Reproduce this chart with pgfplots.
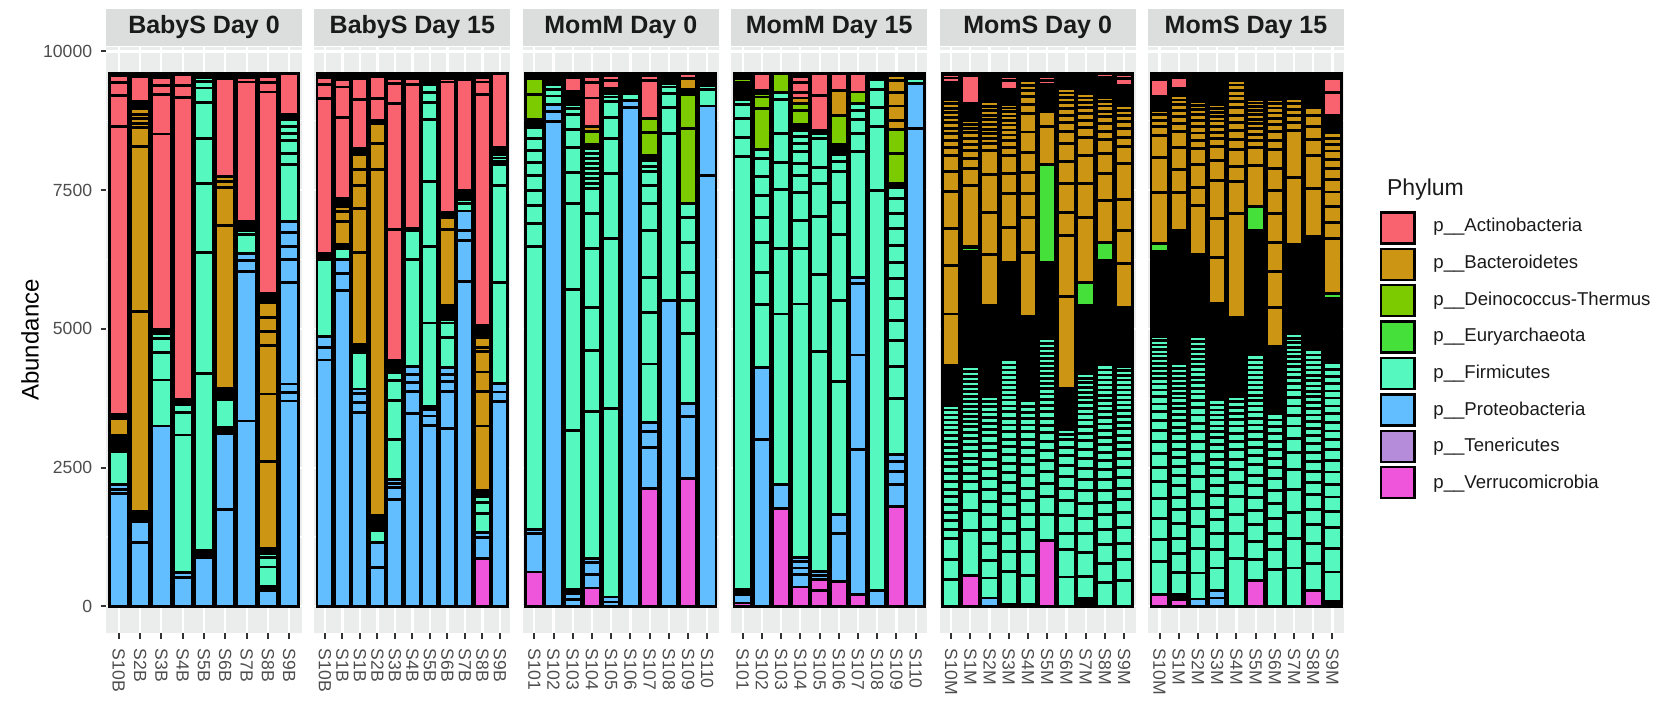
\documentclass[border=0pt]{standalone}
\usepackage{pgfplots}
\pgfplotsset{compat=1.18}
\usepackage{pgfplotstable}
\usepackage{fontspec}
\setmainfont{Liberation Sans}

\definecolor{cA}{HTML}{F8636F}
\definecolor{cB}{HTML}{CC9514}
\definecolor{cD}{HTML}{7CCB00}
\definecolor{cE}{HTML}{45E03A}
\definecolor{cF}{HTML}{55F8BE}
\definecolor{cP}{HTML}{62BEFF}
\definecolor{cT}{HTML}{B48CDA}
\definecolor{cV}{HTML}{EE55DA}
\definecolor{cK}{HTML}{000000}
\definecolor{panelgrey}{HTML}{EBECEC}
\definecolor{stripgrey}{HTML}{DCDEDE}
\definecolor{grey30}{HTML}{4D4D4D}
\definecolor{grey20}{HTML}{333333}
\definecolor{grey10}{HTML}{1A1A1A}

\newcommand\ticksize{\fontsize{8.8}{10}\selectfont}
\newcommand\legfont{\fontsize{9.3}{11}\selectfont}

% one row per sample (bottom to top); column letter = phylum, K = run of tiny OTUs
% BabyS Day 0
\pgfplotstableread{
P1 P2 P3 P4 P5 P6 P7 P8 K1 F1 F2 F3 F4 F5 F6 F7 F8 K2 B1 B2 B3 B4 B5 B6 B7 K3 A1 A2 A3 A4 K4
2028 80 82 0 0 0 0 0 0 600 0 0 0 0 0 0 0 282 306 0 0 0 0 0 0 90 5174 565 228 130 35
1152 378 0 0 0 0 0 0 180 0 0 0 0 0 0 0 0 0 3602 2975 343 78 90 72 108 120 457 0 0 0 45
3252 0 0 0 0 0 0 0 0 828 492 250 100 0 0 0 0 60 0 0 0 0 0 0 0 0 3528 715 162 132 81
516 96 0 0 0 0 0 0 0 2478 402 138 0 0 0 0 0 102 0 0 0 0 0 0 0 0 5439 216 190 0 23
888 0 0 0 0 0 0 0 120 3192 2170 1244 811 649 265 120 60 81 0 0 0 0 0 0 0 0 0 0 0 0 0
1752 1356 0 0 0 0 0 0 120 504 0 0 0 0 0 0 0 198 2933 691 102 90 0 0 0 0 1761 0 0 0 93
3342 2692 198 120 0 0 0 0 0 342 79 0 0 0 0 0 0 162 0 0 0 0 0 0 0 0 2512 90 0 0 63
288 0 0 0 0 0 0 0 72 348 180 72 0 0 0 0 0 90 1560 1218 872 252 258 258 0 163 3636 168 120 0 45
3702 150 156 1821 421 240 252 193 0 1022 198 240 120 139 120 0 0 84 0 0 0 0 0 0 0 0 742 0 0 0 0
}\tBa

% BabyS Day 15
\pgfplotstableread{
V1 P1 P2 P3 P4 P5 K1 F1 F2 F3 F4 F5 F6 F7 K2 B1 B2 B3 B4 B5 B6 B7 K3 A1 A2 A3 A4 K4
0 4440 228 194 0 0 0 1394 0 0 0 0 0 0 108 0 0 0 0 0 0 0 0 2783 252 130 0 71
0 5690 308 258 0 0 0 198 0 0 0 0 0 0 60 421 180 80 0 0 0 0 150 1471 541 138 0 105
0 3492 180 168 78 0 0 654 0 0 0 0 0 0 157 1653 794 402 295 264 0 0 120 878 372 0 0 93
0 702 450 0 0 0 0 216 60 0 0 0 0 0 204 6241 462 361 0 0 0 0 64 387 393 0 0 60
0 1920 228 60 72 0 0 720 708 360 144 0 0 0 216 0 0 0 0 0 0 0 0 2357 2278 354 90 93
0 3480 390 162 150 138 0 1936 517 0 0 0 0 0 42 0 0 0 0 0 0 0 0 2584 110 0 0 91
0 3264 168 108 0 0 60 1505 1373 1180 1116 300 180 145 201 0 0 0 0 0 0 0 0 0 0 0 0 0
0 3210 660 180 132 126 0 536 261 60 0 0 0 0 267 1353 228 0 0 0 0 0 80 2354 60 0 0 93
0 5851 735 193 344 0 0 138 72 0 0 0 0 0 162 0 0 0 0 0 0 0 0 2005 0 0 0 100
870 372 90 0 0 0 0 348 192 108 0 0 0 0 108 1164 618 354 366 80 174 60 162 4164 217 90 0 63
0 3690 174 156 0 0 0 1821 1737 380 60 60 60 0 137 0 0 0 0 0 0 0 0 1325 0 0 0 0
}\tBb

% MomM Day 0
\pgfplotstableread{
V1 P1 P2 P3 K1 F1 F2 F3 F4 F5 F6 F7 F8 F9 F10 F11 F12 F13 F14 K2 D1 D2 D3 K3 B1 A1 A2 A3 K4
618 690 72 0 0 5110 403 331 270 270 241 210 222 199 0 0 0 0 0 132 451 288 60 0 0 0 0 0 33
0 8738 180 130 0 150 120 81 0 0 0 0 0 0 0 0 0 0 0 201 0 0 0 0 0 0 0 0 0
0 120 110 0 80 2858 2535 1550 559 463 319 264 120 60 0 0 0 0 0 241 0 0 0 0 0 240 0 0 81
330 240 222 78 0 2640 1098 782 1064 619 451 90 90 90 90 90 90 90 90 73 247 0 0 0 90 505 276 120 45
0 80 88 0 0 3402 3053 1171 631 391 282 80 60 0 0 0 0 0 0 101 0 0 0 0 0 138 80 0 43
0 8996 121 0 0 120 60 0 0 0 0 0 0 0 0 0 0 0 0 303 0 0 0 0 0 0 0 0 0
2130 738 282 162 0 1056 932 620 853 480 331 250 90 110 0 0 0 0 0 91 421 252 0 0 0 679 80 0 43
0 5511 0 0 0 3004 481 241 120 60 0 0 0 0 0 0 0 0 0 183 0 0 0 0 0 0 0 0 0
2310 1110 240 0 0 1250 601 511 528 463 240 0 0 0 0 0 0 0 0 0 1363 602 0 97 192 93 0 0 0
0 7764 1251 0 0 300 60 0 0 0 0 0 0 0 0 0 0 0 0 225 0 0 0 0 0 0 0 0 0
}\tMa

% MomM Day 15
\pgfplotstableread{
V1 V2 P1 P2 P3 P4 K1 F1 F2 F3 F4 F5 F6 F7 F8 F9 F10 F11 F12 K2 D1 D2 D3 K3 B1 B2 B3 B4 B5 A1 A2 A3 K4
60 0 150 0 0 0 90 7807 348 331 253 96 0 0 0 0 0 0 0 312 60 0 0 63 0 0 0 0 0 30 0 0 0
0 0 3000 1308 0 0 0 1125 589 541 450 391 348 325 156 0 0 0 0 0 745 199 60 60 0 0 0 0 0 303 0 0 0
1770 0 420 0 0 0 0 3080 1172 1070 493 510 620 120 0 0 0 0 0 0 345 0 0 0 0 0 0 0 0 0 0 0 0
348 0 222 120 120 78 0 4562 992 511 499 312 211 221 139 138 102 0 0 103 258 121 0 0 102 0 0 0 0 96 180 105 60
288 192 72 78 0 0 0 3960 1390 1051 583 301 522 80 0 0 0 0 0 59 0 0 0 0 0 0 0 0 0 631 393 0 0
450 0 870 330 0 0 0 2400 1461 1196 576 559 180 120 0 0 0 0 0 175 529 0 0 0 451 0 0 0 0 303 0 0 0
210 0 2622 1698 1281 120 0 2265 319 259 162 121 0 0 0 0 0 0 0 0 210 0 0 0 0 0 0 0 0 333 0 0 0
0 0 288 0 0 0 0 7206 1160 342 319 180 0 0 0 0 0 0 0 105 0 0 0 0 0 0 0 0 0 0 0 0 0
1800 0 390 240 180 120 0 1020 570 470 360 391 360 301 300 301 270 270 210 61 541 439 0 0 162 259 240 222 90 0 0 0 33
0 0 8606 811 0 0 0 90 0 0 0 0 0 0 0 0 0 0 0 93 0 0 0 0 0 0 0 0 0 0 0 0 0
}\tMb

% MomS Day 0
\pgfplotstableread{
V1 P1 K1 F1 F2 F3 F4 F5 F6 F7 F8 F9 F10 F11 F12 F13 F14 F15 F16 F17 F18 F19 F20 F21 F22 F23 F24 F25 F26 K2 E1 K3 B1 B2 B3 B4 B5 B6 B7 B8 B9 B10 B11 B12 B13 B14 B15 B16 K4 A1 A2 K5
0 0 0 480 372 378 150 168 144 138 150 132 138 138 132 120 108 120 102 102 108 90 90 90 90 72 0 0 0 722 0 0 936 872 673 661 360 289 144 126 120 103 96 96 90 78 79 72 318 72 60 21
552 0 0 816 360 342 180 150 150 120 120 120 120 102 108 90 90 90 90 90 90 90 90 90 90 90 90 0 0 2080 60 30 1094 312 181 138 114 108 97 84 72 60 0 0 0 0 0 0 307 510 0 33
0 150 0 360 318 300 264 258 240 222 198 180 162 156 132 132 120 108 108 96 96 90 90 0 0 0 0 0 0 1640 0 0 914 769 673 439 120 90 90 85 90 80 80 80 80 80 0 0 510 0 0 0
0 30 0 600 360 318 282 240 210 192 180 168 150 150 132 138 120 120 120 102 108 90 90 90 90 90 90 90 90 1750 0 0 643 601 360 331 150 120 100 90 90 80 80 75 70 70 0 0 265 162 60 63
0 30 0 528 432 402 258 258 222 222 198 162 156 144 138 120 120 102 108 102 0 0 0 0 0 0 0 0 0 1526 0 0 1154 631 421 390 361 361 330 174 133 108 96 84 0 0 0 0 129 0 0 0
1188 0 0 462 330 228 222 198 180 162 162 132 126 120 114 108 96 96 96 90 90 90 90 90 90 90 90 90 0 1372 1755 0 697 264 60 0 0 0 0 0 0 0 0 0 0 0 0 0 421 78 60 63
0 0 0 528 492 300 312 276 222 210 192 180 156 144 90 84 0 0 0 0 0 0 0 0 0 0 0 0 0 744 0 0 1659 1088 414 523 403 318 223 156 138 126 103 90 78 78 60 0 213 0 0 0
36 0 100 404 432 336 282 258 240 204 198 180 162 150 138 120 120 108 102 102 96 84 96 84 78 90 0 0 0 1232 397 0 1184 601 511 330 175 132 120 108 91 78 72 0 0 0 0 0 279 30 0 60
0 0 0 432 348 330 282 258 222 216 192 180 168 144 138 138 120 120 120 102 102 96 96 96 90 90 90 90 90 1882 331 0 751 480 361 258 145 144 120 96 97 84 72 0 0 0 0 0 366 63 0 0
0 0 0 468 372 300 288 264 228 210 198 180 162 150 132 132 120 108 108 108 102 90 90 90 90 90 84 84 72 1070 0 0 782 601 559 643 318 162 151 132 108 96 85 0 0 0 0 0 360 120 72 21
}\tSa

% MomS Day 15
\pgfplotstableread{
V1 P1 P2 K1 F1 F2 F3 F4 F5 F6 F7 F8 F9 F10 F11 F12 F13 F14 F15 F16 F17 F18 F19 F20 F21 F22 F23 F24 F25 F26 K2 E1 B1 B2 B3 B4 B5 B6 B7 B8 B9 B10 B11 B12 B13 B14 B15 B16 K3 A1 A2 K4
210 0 0 0 600 402 378 360 300 258 240 222 198 180 162 138 132 120 108 102 90 90 90 84 84 84 78 78 72 0 1534 138 932 631 390 169 102 102 84 0 0 0 0 0 0 0 0 0 253 300 60 45
120 0 0 90 402 336 282 270 240 228 204 180 168 168 144 138 138 120 120 108 108 96 96 84 90 90 90 90 90 90 2393 0 691 408 403 283 144 132 108 97 84 72 0 0 0 0 0 0 132 192 0 81
0 132 0 0 468 450 390 330 300 270 240 210 180 180 150 150 138 120 120 102 102 96 96 96 90 90 90 90 90 90 1474 0 890 330 403 288 150 135 120 110 100 90 80 70 0 0 0 0 450 50 0 0
0 150 138 0 402 330 288 252 228 204 192 168 156 144 138 126 120 114 102 108 90 90 90 90 0 0 0 0 0 0 1731 0 841 691 691 361 258 132 120 105 95 85 75 70 65 0 0 0 455 36 0 69
0 0 0 0 870 438 342 330 252 228 180 180 150 150 132 120 108 108 102 90 0 0 0 0 0 0 0 0 0 0 1430 0 1863 589 271 300 180 162 139 138 138 109 96 102 96 78 0 0 129 0 0 0
468 0 0 0 372 330 300 258 240 204 192 186 162 156 144 138 120 120 114 108 96 96 96 90 90 90 90 90 90 90 2248 434 732 331 120 110 100 90 85 80 75 70 65 60 0 0 0 0 470 0 0 0
0 0 0 0 660 360 288 282 258 240 222 198 162 162 138 138 132 120 108 0 0 0 0 0 0 0 0 0 0 0 1212 0 710 644 529 510 420 391 349 167 150 130 110 100 90 80 70 60 410 0 0 0
0 0 0 0 690 540 462 408 360 312 258 222 192 168 156 132 120 108 96 96 90 90 84 84 84 78 78 0 0 0 1606 0 1220 841 145 130 110 100 90 0 0 0 0 0 0 0 0 0 450 0 0 0
288 0 0 0 492 360 330 282 258 222 198 180 162 156 144 132 126 120 114 108 108 96 96 96 96 96 90 90 90 90 1990 60 854 601 288 241 192 138 0 0 0 0 0 0 0 0 0 0 616 0 0 0
45 0 0 40 535 420 385 290 255 225 225 215 195 170 160 160 150 140 145 125 130 130 130 130 0 0 0 0 0 0 1150 90 990 290 290 257 225 193 173 148 122 103 97 0 0 0 0 0 321 404 258 89
}\tSb

% stack the listed columns of a table; fill colour from the column's first letter
\def\firstchar#1#2\relax{#1}
\newcommand\drawstack[2]{%
  \pgfplotsforeachungrouped\colname in {#2}{%
    \edef\tmp{\noexpand\addplot[forget plot, draw=black, line width=1.4pt,
      fill=c\expandafter\firstchar\colname\relax]
      table[x expr=\noexpand\coordindex+1, y=\colname] {\noexpand#1};}%
    \tmp}}

\tikzset{leglabel/.style={anchor=west, inner sep=0pt, font=\legfont, text=grey10}}

\pgfplotsset{
  facet/.style={
    at={(#1,-23.5pt)}, anchor=north west,
    scale only axis, width=98pt, height=293pt,
    ybar stacked, bar width=0.9,
    enlargelimits=false,
    ymin=-479.5, ymax=10079.5,
    ytick={0,2500,5000,7500,10000},
    minor ytick={1250,3750,6250,8750},
    minor tick length=0pt,
    xmajorgrids, ymajorgrids, yminorgrids,
    major grid style={white, line width=1.1pt},
    minor grid style={white, line width=0.55pt},
    axis background/.style={fill=panelgrey},
    axis line style={draw=none},
    tick pos=left, tick align=outside,
    major tick length=2.75pt,
    tick style={grey20, line width=1pt},
    xticklabel style={rotate=-90, anchor=west, inner sep=0pt, font=\ticksize, text=grey30},
    xticklabel shift=5pt,
    yticklabel style={inner sep=0pt, font=\ticksize, text=grey30},
    yticklabel shift=4pt,
    title style={at={(0.5,1)}, anchor=south, yshift=-5.5pt, fill=stripgrey,
      minimum width=98pt, minimum height=18.5pt, inner sep=0pt,
      font=\fontsize{12.5}{15}\selectfont\bfseries, text=grey10},
  },
  inner facet/.style={yticklabels={}, ytick style={draw=none}},
}

\begin{document}
\begin{tikzpicture}
\useasboundingbox (0,0) rectangle (829pt,-352pt);

\begin{axis}[facet=53pt, title={BabyS Day 0},
  xmin=0.4, xmax=9.6, xtick={1,...,9},
  xticklabels={S10B,S2B,S3B,S4B,S5B,S6B,S7B,S8B,S9B},
  yticklabels={0,2500,5000,7500,10000},
  ylabel={Abundance},
  ylabel style={at={(axis description cs:-0.388,0.5)}, anchor=center,
    font=\fontsize{12}{14}\selectfont, text=black}]
\drawstack{\tBa}{P1,P2,P3,P4,P5,P6,P7,P8,K1,F1,F2,F3,F4,F5,F6,F7,F8,K2,B1,B2,B3,B4,B5,B6,B7,K3,A1,A2,A3,A4,K4}
\end{axis}

\begin{axis}[facet=157.2pt, inner facet, title={BabyS Day 15},
  xmin=0.4, xmax=11.6, xtick={1,...,11},
  xticklabels={S10B,S1B,S1B,S2B,S3B,S4B,S5B,S6B,S7B,S8B,S9B}]
\drawstack{\tBb}{V1,P1,P2,P3,P4,P5,K1,F1,F2,F3,F4,F5,F6,F7,K2,B1,B2,B3,B4,B5,B6,B7,K3,A1,A2,A3,A4,K4}
\end{axis}

\begin{axis}[facet=261.4pt, inner facet, title={MomM Day 0},
  xmin=0.4, xmax=10.6, xtick={1,...,10},
  xticklabels={S101,S102,S103,S104,S105,S106,S107,S108,S109,S110}]
\drawstack{\tMa}{V1,P1,P2,P3,K1,F1,F2,F3,F4,F5,F6,F7,F8,F9,F10,F11,F12,F13,F14,K2,D1,D2,D3,K3,B1,A1,A2,A3,K4}
\end{axis}

\begin{axis}[facet=365.6pt, inner facet, title={MomM Day 15},
  xmin=0.4, xmax=10.6, xtick={1,...,10},
  xticklabels={S101,S102,S103,S104,S105,S106,S107,S108,S109,S110}]
\drawstack{\tMb}{V1,V2,P1,P2,P3,P4,K1,F1,F2,F3,F4,F5,F6,F7,F8,F9,F10,F11,F12,K2,D1,D2,D3,K3,B1,B2,B3,B4,B5,A1,A2,A3,K4}
\end{axis}

\begin{axis}[facet=469.8pt, inner facet, title={MomS Day 0},
  xmin=0.4, xmax=10.6, xtick={1,...,10},
  xticklabels={S10M,S1M,S2M,S3M,S4M,S5M,S6M,S7M,S8M,S9M}]
\drawstack{\tSa}{V1,P1,K1,F1,F2,F3,F4,F5,F6,F7,F8,F9,F10,F11,F12,F13,F14,F15,F16,F17,F18,F19,F20,F21,F22,F23,F24,F25,F26,K2,E1,K3,B1,B2,B3,B4,B5,B6,B7,B8,B9,B10,B11,B12,B13,B14,B15,B16,K4,A1,A2,K5}
\end{axis}

\begin{axis}[facet=574pt, inner facet, title={MomS Day 15},
  xmin=0.4, xmax=10.6, xtick={1,...,10},
  xticklabels={S10M,S1M,S2M,S3M,S4M,S5M,S6M,S7M,S8M,S9M}]
\drawstack{\tSb}{V1,P1,P2,K1,F1,F2,F3,F4,F5,F6,F7,F8,F9,F10,F11,F12,F13,F14,F15,F16,F17,F18,F19,F20,F21,F22,F23,F24,F25,F26,K2,E1,B1,B2,B3,B4,B5,B6,B7,B8,B9,B10,B11,B12,B13,B14,B15,B16,K3,A1,A2,K4}
\end{axis}

% legend: swatches from pgfplots, labels set beside them
\begin{axis}[at={(574pt,-23.5pt)}, anchor=north west,
  scale only axis, width=98pt, height=293pt,
  hide axis, clip=false, xmin=0, xmax=1, ymin=0, ymax=1,
  legend style={at={(axis description cs:1.179,0.7205)}, anchor=north west,
    draw=none, fill=none, inner sep=0pt, row sep=1.5pt, column sep=0pt},
  legend image code/.code={\draw[#1, draw=black, line width=1.2pt] (0.6pt,-7.75pt) rectangle (17.4pt,7.75pt);}]
\addlegendimage{fill=cA}\addlegendentry{}
\addlegendimage{fill=cB}\addlegendentry{}
\addlegendimage{fill=cD}\addlegendentry{}
\addlegendimage{fill=cE}\addlegendentry{}
\addlegendimage{fill=cF}\addlegendentry{}
\addlegendimage{fill=cP}\addlegendentry{}
\addlegendimage{fill=cT}\addlegendentry{}
\addlegendimage{fill=cV}\addlegendentry{}
\node[anchor=base west, font=\fontsize{11.5}{13}\selectfont, text=grey10] at (rel axis cs:1.184,0.746) {Phylum};
\node[leglabel] at (rel axis cs:1.454,0.6928) {p\_\_Actinobacteria};
\node[leglabel] at (rel axis cs:1.454,0.6302) {p\_\_Bacteroidetes};
\node[leglabel] at (rel axis cs:1.454,0.5676) {p\_\_Deinococcus-Thermus};
\node[leglabel] at (rel axis cs:1.454,0.5049) {p\_\_Euryarchaeota};
\node[leglabel] at (rel axis cs:1.454,0.4423) {p\_\_Firmicutes};
\node[leglabel] at (rel axis cs:1.454,0.3797) {p\_\_Proteobacteria};
\node[leglabel] at (rel axis cs:1.454,0.3171) {p\_\_Tenericutes};
\node[leglabel] at (rel axis cs:1.454,0.2544) {p\_\_Verrucomicrobia};
\end{axis}
\end{tikzpicture}
\end{document}
